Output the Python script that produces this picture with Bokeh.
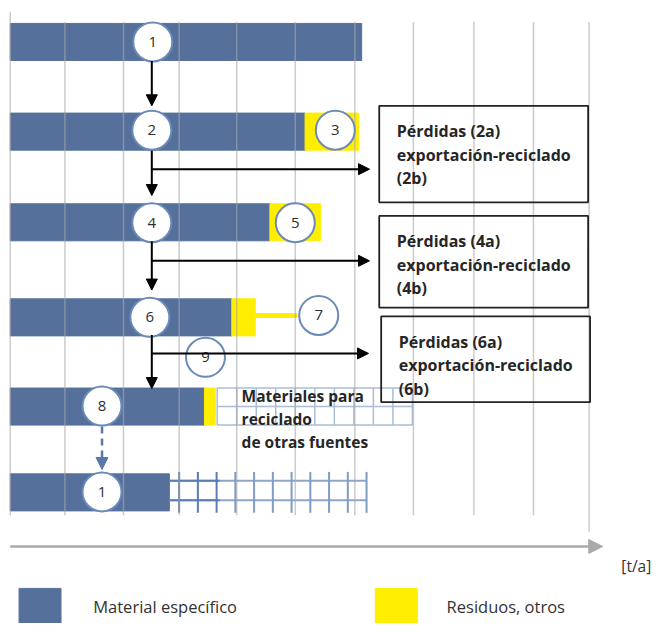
from bokeh.plotting import figure
from bokeh.models import Range1d, Arrow, NormalHead
from bokeh.core.properties import value
from bokeh.embed import file_html
from bokeh.resources import INLINE

# ---------------- data ----------------
stage_labels = ["1", "2", "4", "6", "8", "1"]
material = [360, 302, 266, 227, 199, 163]        # material específico
residuos = [0, 55, 52, 24, 11, 0]                 # residuos, otros
reciclado_otras = [0, 0, 0, 0, 200, 202]          # reciclado de otras fuentes
waste_labels = ["", "3", "5", "7", "", ""]
loss_texts = [["Pérdidas (2a)", "exportación-reciclado", "(2b)"],
              ["Pérdidas (4a)", "exportación-reciclado", "(4b)"],
              ["Pérdidas (6a)", "exportación-reciclado", "(6b)"]]
other_text = ["Materiales para", "reciclado", "de otras fuentes"]
legend_labels = ["Material específico", "Residuos, otros"]
axis_label = "[t/a]"
grid_ticks = [66, 126, 183, 242, 302, 363, 423, 485, 546, 603]

# ---------------- layout / style ----------------
X0 = 10
row_y = [42.5, 134.5, 227.5, 325, 416.5, 504.5]
BAR_H = 38
BLUE = "#56709c"
YELLOW = "#ffee00"
CIRCLE_LINE = "#6a8aba"
TXT = "#262626"
FONT = value("Open Sans")

p = figure(width=654, height=623, output_backend="svg", toolbar_location=None,
           x_range=Range1d(0, 670), y_range=Range1d(639, 0),
           x_axis_type=None, y_axis_type=None, min_border=0)
p.grid.visible = False
p.outline_line_color = None
p.background_fill_color = "white"

# bars
mat_right = [X0 + m for m in material]
res_right = [mr + r for mr, r in zip(mat_right, residuos)]
p.hbar(y=row_y, left=X0, right=mat_right, height=BAR_H, color=BLUE)
yi = [i for i, r in enumerate(residuos) if r > 0]
p.hbar(y=[row_y[i] for i in yi], left=[mat_right[i] for i in yi],
       right=[res_right[i] for i in yi], height=BAR_H, color=YELLOW)

# yellow connector to circle 7
p.segment(x0=[res_right[3]], y0=[row_y[3] - 2], x1=[304], y1=[row_y[3] - 2],
          line_color=YELLOW, line_width=5)

# recycled from other sources pattern
# row 5 (index 4)
r5_left = 222
r5_right = r5_left + reciclado_otras[4]
top5, bot5 = row_y[4] - BAR_H / 2, row_y[4] + BAR_H / 2
n = 10
step5 = reciclado_otras[4] / n
p.segment(x0=[r5_left] * 3, x1=[r5_right] * 3,
          y0=[top5, row_y[4], bot5], y1=[top5, row_y[4], bot5],
          line_color="#a9bcd8", line_width=1.5)
vx5 = [r5_left + k * step5 for k in range(n + 1)]
p.segment(x0=vx5, x1=vx5, y0=[top5] * len(vx5), y1=[bot5] * len(vx5),
          line_color="#a9bcd8", line_width=1.5)
# row 6 (index 5)
r6_left = X0 + material[5]
r6_right = r6_left + reciclado_otras[5]
step6 = (reciclado_otras[5] - 10) / n
vx6 = [r6_left + 10 + k * step6 for k in range(n + 1)]
hy6 = [row_y[5] - 12, row_y[5] + 8]
p.segment(x0=[r6_left] * 2, x1=[r6_right] * 2, y0=hy6, y1=hy6,
          line_color="#8ea6cb", line_width=2)
p.segment(x0=[r6_left] * 2, x1=[vx6[2] + 3] * 2, y0=hy6, y1=hy6,
          line_color="#5a7db2", line_width=2)
p.segment(x0=vx6, x1=vx6, y0=[row_y[5] - 21] * len(vx6), y1=[row_y[5] + 21] * len(vx6),
          line_color=["#5a7db2"] * 3 + ["#7f9cc6"] * (len(vx6) - 3), line_width=2)

# vertical gridlines (drawn over bars, semi transparent)
p.segment(x0=[X0], x1=[X0], y0=[12], y1=[528], line_color="#a8a8a8", line_alpha=0.6, line_width=1.5)
gb = [528] * (len(grid_ticks) - 1) + [545]
p.segment(x0=grid_ticks, x1=grid_ticks, y0=[22] * len(grid_ticks), y1=gb,
          line_color="#a8a8a8", line_alpha=0.6, line_width=1.5)

# arrows
def arrow(x0, y0, x1, y1, color="black", dash="solid", w=2, size=11):
    p.add_layout(Arrow(end=NormalHead(size=size, fill_color=color, line_color=color),
                       x_start=x0, y_start=y0, x_end=x1, y_end=y1,
                       line_color=color, line_width=w, line_dash=dash))

AX = 155
arrow(AX, 62, AX, 108)
arrow(AX, 154, AX, 200)
arrow(AX, 173, 378, 173)
arrow(AX, 247, AX, 297)
arrow(AX, 267, 378, 267)
arrow(AX, 343, AX, 398)
arrow(AX, 362, 377, 362)
arrow(104, 437, 104, 481, color="#5a78a8", dash="7 5", w=2.5, size=12)

# grey t/a axis
arrow(X0, 560, 617, 560, color="#aaaaaa", w=2.5, size=14)

# loss boxes
boxes_l = [388, 388, 390]
boxes_r = [602, 602, 604]
boxes_t = [108, 221, 324]
boxes_b = [207, 315, 412]
p.quad(left=boxes_l, right=boxes_r, top=boxes_t, bottom=boxes_b,
       fill_color=None, line_color="#222222", line_width=1.8)

# circles
cx = [156, 155, 155, 153, 104, 104, 343, 302, 326, 210]
cy = [42.5, 133, 228, 325, 416, 504, 133, 228, 323, 366]
clabels = stage_labels + [w for w in waste_labels if w] + ["9"]
p.scatter(x=cx, y=cy, size=39, marker="circle", fill_color="white",
          line_color=CIRCLE_LINE, line_width=2)
p.text(x=cx, y=cy, text=clabels, text_align="center", text_baseline="middle",
       text_font=FONT, text_font_size="15px", text_color="#2e2e2e")

# box texts
tx, ty, tt = [], [], []
line_offsets = [25, 49, 73]
for k, lines in enumerate(loss_texts):
    for j, s in enumerate(lines):
        tx.append(boxes_l[k] + 18)
        ty.append(boxes_t[k] + line_offsets[j] + 1)
        tt.append(s)
p.text(x=tx, y=ty, text=tt, text_baseline="middle", text_font=FONT,
       text_font_style="bold", text_font_size="16px", text_color=TXT)

p.text(x=[247] * 3, y=[406, 429, 453], text=other_text, text_baseline="middle",
       text_font=FONT, text_font_style="bold", text_font_size="15.5px", text_color=TXT)

# axis label
p.text(x=[636], y=[580], text=[axis_label], text_baseline="middle",
       text_font=FONT, text_font_size="15.5px", text_color="#333333")

# legend
p.quad(left=[19, 384], right=[62, 427], top=[603, 603], bottom=[645, 645],
       color=[BLUE, YELLOW])
p.text(x=[95, 457], y=[622, 622], text=legend_labels, text_baseline="middle",
       text_font=FONT, text_font_size="16.5px", text_color="#333333")

open("out.html", "w").write(file_html(p, INLINE))
